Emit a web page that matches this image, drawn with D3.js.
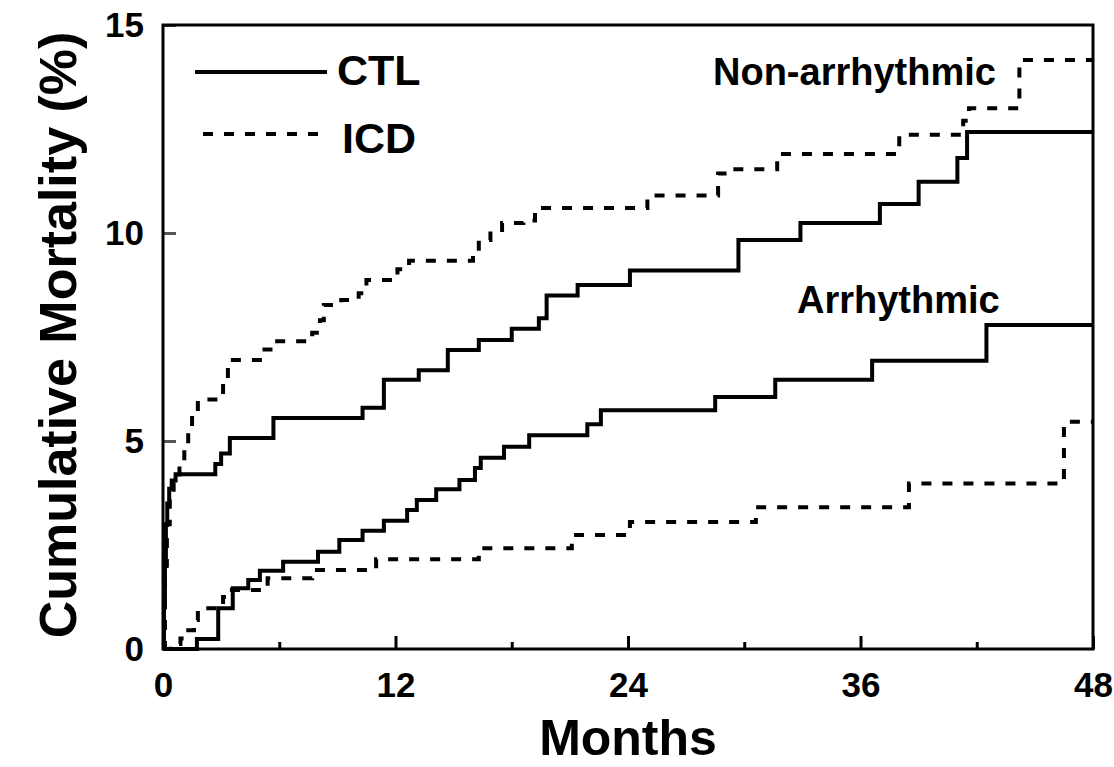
<!DOCTYPE html>
<html>
<head>
<meta charset="utf-8">
<script src="https://cdn.jsdelivr.net/npm/d3@7"></script>
<style>
  html, body { margin: 0; padding: 0; background: #fff; }
  svg { display: block; }
  text { font-family: "Liberation Sans", Arial, Helvetica, sans-serif; font-weight: bold; fill: #000; }
</style>
</head>
<body>
<svg id="chart" width="1114" height="767"></svg>
<script>
// Kaplan-Meier style cumulative mortality, [month, cumulative %] at each step
const ctlNonArrhythmic = [
  [0, 0], [0.05, 1.0], [0.1, 2.0], [0.15, 3.0], [0.22, 3.5], [0.32, 3.85], [0.45, 4.05],
  [0.65, 4.2], [2.7, 4.45], [3.0, 4.7], [3.45, 5.07], [5.7, 5.55], [10.3, 5.8],
  [11.4, 6.47], [13.2, 6.7], [14.7, 7.19], [16.3, 7.43], [18.0, 7.7], [19.4, 7.95],
  [19.8, 8.5], [21.4, 8.75], [24.1, 9.1], [29.7, 9.83], [32.9, 10.24], [37.0, 10.7],
  [39.0, 11.23], [41.0, 11.8], [41.5, 12.43], [48, 12.43]
];
const icdNonArrhythmic = [
  [0, 0], [0.1, 2.0], [0.2, 3.0], [0.35, 3.6], [0.55, 4.0], [0.85, 4.4], [1.1, 4.8],
  [1.3, 5.2], [1.5, 5.6], [1.8, 6.0], [2.9, 6.1], [3.1, 6.5], [3.35, 6.95],
  [5.0, 7.2], [5.7, 7.4], [7.7, 7.6], [8.1, 7.9], [8.3, 8.27], [9.2, 8.39],
  [10.1, 8.55], [10.5, 8.87], [12.1, 9.13], [12.7, 9.33], [16.0, 9.5], [16.3, 9.83],
  [16.9, 10.07], [17.5, 10.24], [18.6, 10.3], [19.2, 10.6], [25.0, 10.9],
  [28.65, 11.43], [29.2, 11.53], [31.7, 11.9], [38.0, 12.36], [41.3, 12.7],
  [41.6, 13.0], [44.2, 14.16], [48, 14.16]
];
const ctlArrhythmic = [
  [0, 0], [1.75, 0.24], [2.85, 0.98], [3.6, 1.46], [4.4, 1.66], [5.0, 1.88],
  [6.2, 2.1], [8.0, 2.34], [9.1, 2.62], [10.3, 2.84], [11.4, 3.08], [12.6, 3.34],
  [13.1, 3.58], [14.1, 3.84], [15.3, 4.06], [16.1, 4.35], [16.4, 4.6], [17.6, 4.86],
  [18.9, 5.14], [21.9, 5.4], [22.6, 5.74], [28.5, 6.06], [31.6, 6.47], [36.6, 6.93],
  [42.5, 7.79], [48, 7.79]
];
const icdArrhythmic = [
  [0, 0], [0.4, 0.12], [0.9, 0.25], [1.2, 0.45], [1.6, 0.7], [1.8, 0.98],
  [3.1, 1.25], [3.4, 1.42], [5.4, 1.7], [7.7, 1.9], [11.0, 2.16], [16.3, 2.42],
  [21.1, 2.74], [24.1, 3.05], [30.6, 3.41], [38.5, 3.98], [46.5, 5.46], [48, 5.46]
];

const xMajorTicks = [0, 12, 24, 36, 48];
const xMinorTicks = [6, 18, 30, 42];
const yTicks = [0, 5, 10, 15];
const xTitle = "Months";
const yTitle = "Cumulative Mortality (%)";
const legendItems = [
  { label: "CTL", dashed: false },
  { label: "ICD", dashed: true }
];
const groupLabels = ["Non-arrhythmic", "Arrhythmic"];

const svg = d3.select("#chart");
const plotLeft = 163, plotRight = 1093, plotTop = 25, plotBottom = 649;

const x = d3.scaleLinear().domain([0, 48]).range([plotLeft, plotRight]);
const y = d3.scaleLinear().domain([0, 15]).range([plotBottom, plotTop]);

const DASH = "10,11";

// axes: ticks point into the plot area
const gx = svg.append("g")
  .attr("transform", `translate(0,${plotBottom})`)
  .call(d3.axisBottom(x).tickValues(xMajorTicks).tickSize(-13).tickSizeOuter(0)
    .tickPadding(23).tickFormat(d3.format("d")));
gx.select(".domain").remove();
gx.selectAll(".tick line").attr("stroke", "#000").attr("stroke-width", 3);
gx.selectAll(".tick text").style("font-size", "35px");

const gxMinor = svg.append("g")
  .attr("transform", `translate(0,${plotBottom})`)
  .call(d3.axisBottom(x).tickValues(xMinorTicks).tickSize(-7).tickSizeOuter(0).tickFormat(""));
gxMinor.select(".domain").remove();
gxMinor.selectAll(".tick line").attr("stroke", "#000").attr("stroke-width", 3);

const gy = svg.append("g")
  .attr("transform", `translate(${plotLeft},0)`)
  .call(d3.axisLeft(y).tickValues(yTicks).tickSize(-13).tickSizeOuter(0)
    .tickPadding(19).tickFormat(d3.format("d")));
gy.select(".domain").remove();
gy.selectAll(".tick line").attr("stroke", "#555").attr("stroke-width", 3);
gy.selectAll(".tick text").style("font-size", "35px");

// frame
svg.append("rect")
  .attr("x", plotLeft).attr("y", plotTop)
  .attr("width", plotRight - plotLeft).attr("height", plotBottom - plotTop)
  .attr("fill", "none").attr("stroke", "#000").attr("stroke-width", 3);

// step curves
const line = d3.line()
  .x(d => x(d[0]))
  .y(d => y(d[1]))
  .curve(d3.curveStepAfter);

const series = [
  { data: ctlNonArrhythmic, dashed: false },
  { data: icdNonArrhythmic, dashed: true },
  { data: ctlArrhythmic, dashed: false },
  { data: icdArrhythmic, dashed: true }
];

svg.append("g").selectAll("path")
  .data(series)
  .join("path")
  .attr("d", d => line(d.data))
  .attr("fill", "none")
  .attr("stroke", "#000")
  .attr("stroke-width", 4)
  .attr("stroke-linejoin", "miter")
  .attr("stroke-dasharray", d => d.dashed ? DASH : null);

// legend
const legend = svg.append("g");
const legendRows = [
  { x1: 195, x2: 327, y: 72, tx: 337, ty: 85 },
  { x1: 203, x2: 325, y: 134, tx: 342, ty: 153 }
];
legendItems.forEach((item, i) => {
  const r = legendRows[i];
  legend.append("line")
    .attr("x1", r.x1).attr("x2", r.x2).attr("y1", r.y).attr("y2", r.y)
    .attr("stroke", "#000").attr("stroke-width", 4)
    .attr("stroke-dasharray", item.dashed ? DASH : null);
  legend.append("text")
    .attr("x", r.tx).attr("y", r.ty)
    .style("font-size", "43px")
    .text(item.label);
});

// group annotations
svg.append("text").attr("x", 713).attr("y", 85).style("font-size", "38px").text(groupLabels[0]);
svg.append("text").attr("x", 797).attr("y", 313).style("font-size", "38px").text(groupLabels[1]);

// axis titles
svg.append("text")
  .attr("x", (plotLeft + plotRight) / 2).attr("y", 755)
  .attr("text-anchor", "middle")
  .style("font-size", "50px")
  .text(xTitle);

svg.append("text")
  .attr("transform", "translate(76,335) rotate(-90)")
  .attr("text-anchor", "middle")
  .style("font-size", "52px")
  .text(yTitle);
</script>
</body>
</html>
